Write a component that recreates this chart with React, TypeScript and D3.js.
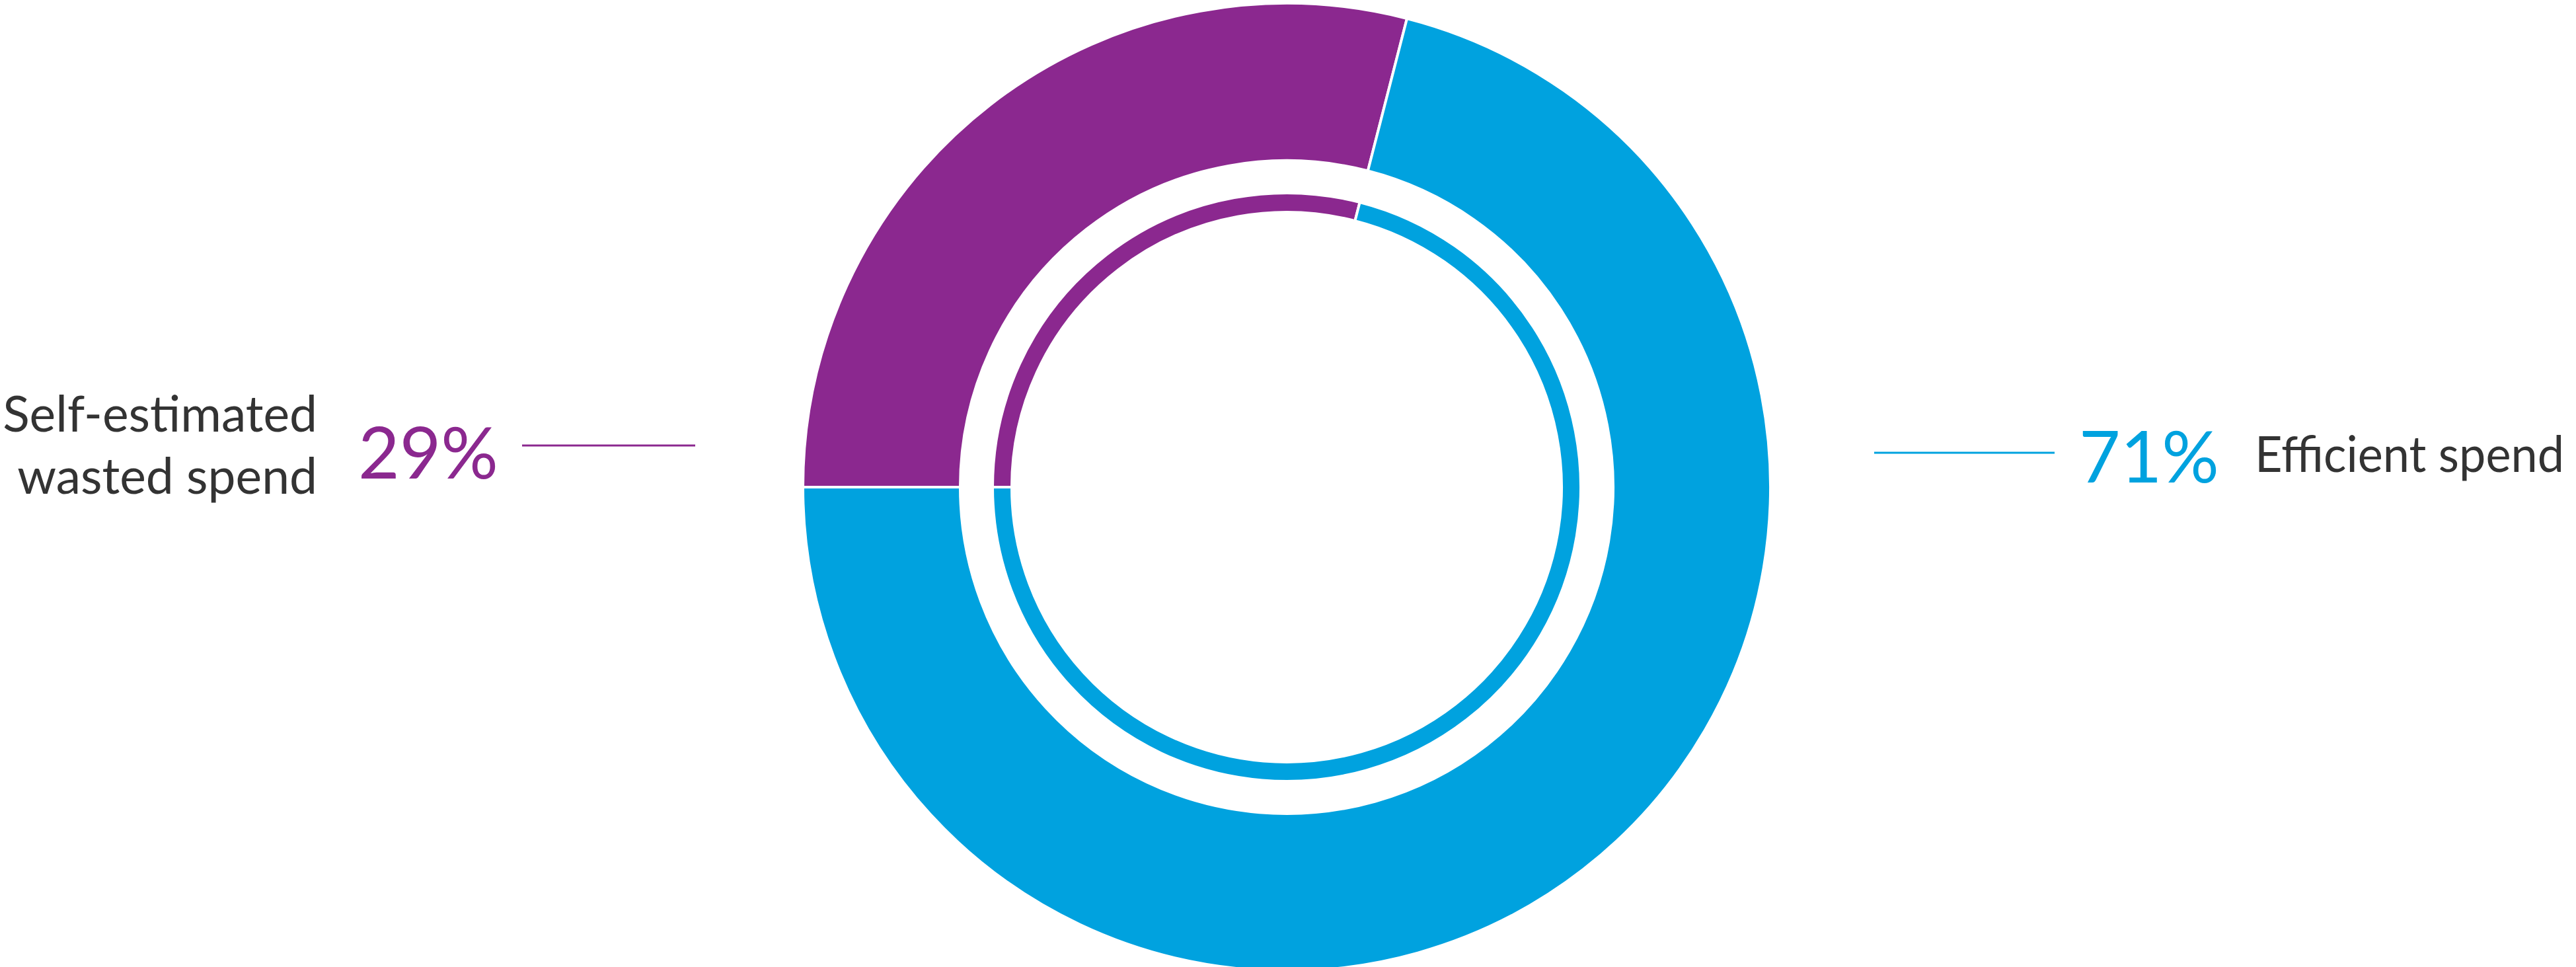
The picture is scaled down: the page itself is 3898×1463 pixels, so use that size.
import React from "react";
import * as d3 from "d3";

interface Slice {
  name: string;
  value: number;
  color: string;
}

// data
const categories = ["Self-estimated wasted spend", "Efficient spend"];
const shares = [29, 71];
const seriesColors = ["#8B288F", "#00A2DF"];
const nameLines = [["Self-estimated", "wasted spend"], ["Efficient spend"]];

const width = 3898;
const height = 1463;
const cx = 1947;
const cy = 737;

const slices: Slice[] = categories.map((name, i) => ({
  name,
  value: shares[i],
  color: seriesColors[i],
}));

const App: React.FC = () => {
  const pie = d3
    .pie<Slice>()
    .sort(null)
    .value((d) => d.value)
    .startAngle(-Math.PI / 2)
    .endAngle((3 * Math.PI) / 2);
  const arcs = pie(slices);

  // thick outer ring and thin inner ring, same split
  const outerArc = d3.arc<d3.PieArcDatum<Slice>>().innerRadius(494).outerRadius(732);
  const innerArc = d3.arc<d3.PieArcDatum<Slice>>().innerRadius(416).outerRadius(445);

  const fmt = (v: number) => `${v}%`;
  const textColor = "#333333";
  const font = "Lato, 'Open Sans', sans-serif";

  return (
    <div style={{ position: "absolute", left: 0, top: 0 }}>
      <svg width={width} height={height} viewBox={`0 0 ${width} ${height}`}>
        <rect width={width} height={height} fill="#fff" />
        <g transform={`translate(${cx},${cy})`}>
          {arcs.map((d, i) => (
            <path key={"o" + i} d={outerArc(d) || ""} fill={d.data.color} stroke="#fff" strokeWidth={4} />
          ))}
          {arcs.map((d, i) => (
            <path key={"i" + i} d={innerArc(d) || ""} fill={d.data.color} stroke="#fff" strokeWidth={4} />
          ))}
        </g>

        {/* left label: wasted spend */}
        <g fontFamily={font}>
          <text x={480} y={653} textAnchor="end" fontSize={75} fill={textColor}>
            {nameLines[0][0]}
          </text>
          <text x={480} y={747} textAnchor="end" fontSize={75} fill={textColor}>
            {nameLines[0][1]}
          </text>
          <text x={542} y={724} fontSize={108} fill={slices[0].color} textLength={212} lengthAdjust="spacingAndGlyphs">
            {fmt(slices[0].value)}
          </text>
          <line x1={790} x2={1052} y1={674} y2={674} stroke={slices[0].color} strokeWidth={3} />

          {/* right label: efficient spend */}
          <line x1={2836} x2={3109} y1={685} y2={685} stroke={slices[1].color} strokeWidth={3} />
          <text x={3146} y={730} fontSize={108} fill={slices[1].color} textLength={212} lengthAdjust="spacingAndGlyphs">
            {fmt(slices[1].value)}
          </text>
          <text x={3412} y={714} fontSize={75} fill={textColor} textLength={468} lengthAdjust="spacingAndGlyphs">
            {nameLines[1][0]}
          </text>
        </g>
      </svg>
    </div>
  );
};

export default App;
